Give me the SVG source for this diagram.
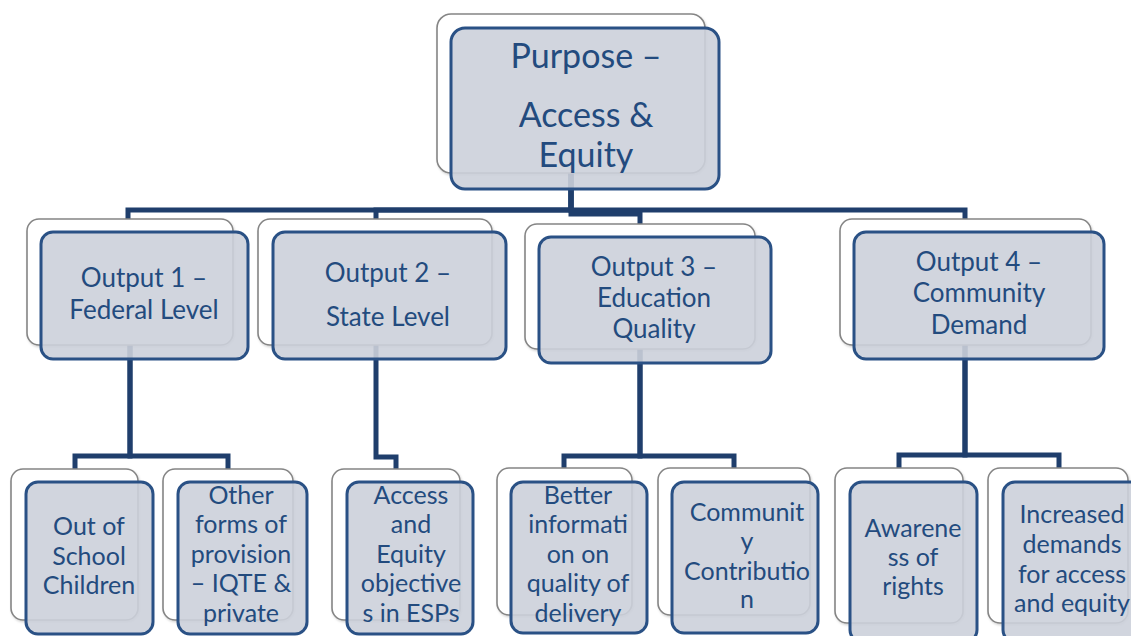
<svg xmlns="http://www.w3.org/2000/svg" width="1131" height="636" viewBox="0 0 1131 636">
  <defs>
    <filter id="soft" x="-5%" y="-5%" width="115%" height="115%">
      <feDropShadow dx="1" dy="1.5" stdDeviation="1.2" flood-color="#000" flood-opacity="0.18"/>
    </filter>
  </defs>
  <style>
    .back { fill: #ffffff; stroke: #858585; stroke-width: 1.6; filter: url(#soft); }
    .front { fill: #ccd0da; fill-opacity: 0.9; stroke: #2a5185; stroke-width: 3; }
    .link { fill: none; stroke: #1f3e6c; stroke-width: 5; stroke-linejoin: miter; }
    .t { font-family: "Lato", "Liberation Sans", sans-serif; fill: #234b7e; text-anchor: middle; }
    .big { font-size: 34px; }
    .mid { font-size: 26px; }
    .sm { font-size: 25px; }
  </style>
  <rect width="1131" height="636" fill="#ffffff"/>

  <!-- connectors, drawn under the boxes -->
  <g id="connectors">
    <path class="link" d="M571,94 V210 H128 V222"/>
    <path class="link" d="M571,94 V210 H376 V222"/>
    <path class="link" d="M571,94 V214 H640 V228"/>
    <path class="link" d="M571,94 V210 H965 V222"/>

    <path class="link" d="M130,280 V456 H75 V470"/>
    <path class="link" d="M130,280 V456 H228 V470"/>

    <path class="link" d="M376,280 V457 H396 V470"/>

    <path class="link" d="M640,285 V456 H564 V470"/>
    <path class="link" d="M640,285 V456 H734 V470"/>

    <path class="link" d="M965,280 V455 H899 V470"/>
    <path class="link" d="M965,280 V455 H1059 V470"/>
  </g>

  <!-- purpose -->
  <g id="purpose">
    <rect class="back" x="437" y="14" width="268" height="159" rx="14"/>
    <rect class="front" x="451" y="28" width="268" height="161" rx="14"/>
    <text class="t big" x="586" y="68">Purpose –</text>
    <text class="t big" x="586" y="127">Access &amp;</text>
    <text class="t big" x="586" y="167">Equity</text>
  </g>

  <!-- outputs -->
  <g id="output1">
    <rect class="back" x="27" y="219" width="206" height="126" rx="12"/>
    <rect class="front" x="41" y="232" width="207" height="127" rx="12"/>
    <text class="t mid" x="144" y="287">Output 1 –</text>
    <text class="t mid" x="144" y="319">Federal Level</text>
  </g>
  <g id="output2">
    <rect class="back" x="258" y="219" width="234" height="126" rx="12"/>
    <rect class="front" x="273" y="232" width="233" height="127" rx="12"/>
    <text class="t mid" x="388" y="282">Output 2 –</text>
    <text class="t mid" x="388" y="326">State Level</text>
  </g>
  <g id="output3">
    <rect class="back" x="525" y="224" width="230" height="125" rx="12"/>
    <rect class="front" x="539" y="237" width="232" height="126" rx="12"/>
    <text class="t mid" x="654" y="276">Output 3 –</text>
    <text class="t mid" x="654" y="307">Education</text>
    <text class="t mid" x="654" y="338">Quality</text>
  </g>
  <g id="output4">
    <rect class="back" x="840" y="219" width="251" height="126" rx="12"/>
    <rect class="front" x="854" y="232" width="250" height="127" rx="12"/>
    <text class="t mid" x="979" y="271">Output 4 –</text>
    <text class="t mid" x="979" y="302">Community</text>
    <text class="t mid" x="979" y="334">Demand</text>
  </g>

  <!-- results -->
  <g id="out-of-school">
    <rect class="back" x="11" y="469" width="127" height="151" rx="12"/>
    <rect class="front" x="26" y="482" width="127" height="152" rx="12"/>
    <text class="t sm" x="89" y="535">Out of</text>
    <text class="t sm" x="89" y="565">School</text>
    <text class="t sm" x="89" y="594">Children</text>
  </g>
  <g id="other-forms">
    <rect class="back" x="163" y="469" width="130" height="151" rx="12"/>
    <rect class="front" x="178" y="482" width="129" height="152" rx="12"/>
    <text class="t sm" x="241" y="504">Other</text>
    <text class="t sm" x="241" y="533">forms of</text>
    <text class="t sm" x="241" y="563">provision</text>
    <text class="t sm" x="241" y="592">– IQTE &amp;</text>
    <text class="t sm" x="241" y="622">private</text>
  </g>
  <g id="access-equity">
    <rect class="back" x="332" y="469" width="128" height="151" rx="12"/>
    <rect class="front" x="347" y="482" width="126" height="152" rx="12"/>
    <text class="t sm" x="411" y="504">Access</text>
    <text class="t sm" x="411" y="533">and</text>
    <text class="t sm" x="411" y="563">Equity</text>
    <text class="t sm" x="411" y="592">objective</text>
    <text class="t sm" x="411" y="622">s in ESPs</text>
  </g>
  <g id="better-information">
    <rect class="back" x="497" y="468" width="135" height="147" rx="12"/>
    <rect class="front" x="511" y="482" width="136" height="151" rx="12"/>
    <text class="t sm" x="578" y="504">Better</text>
    <text class="t sm" x="578" y="533">informati</text>
    <text class="t sm" x="578" y="563">on on</text>
    <text class="t sm" x="578" y="592">quality of</text>
    <text class="t sm" x="578" y="622">delivery</text>
  </g>
  <g id="community-contribution">
    <rect class="back" x="658" y="468" width="152" height="147" rx="12"/>
    <rect class="front" x="672" y="482" width="146" height="151" rx="12"/>
    <text class="t sm" x="747" y="521">Communit</text>
    <text class="t sm" x="747" y="550">y</text>
    <text class="t sm" x="747" y="580">Contributio</text>
    <text class="t sm" x="747" y="608">n</text>
  </g>
  <g id="awareness">
    <rect class="back" x="835" y="468" width="128" height="155" rx="12"/>
    <rect class="front" x="850" y="482" width="127" height="160" rx="12"/>
    <text class="t sm" x="913" y="537">Awarene</text>
    <text class="t sm" x="913" y="566">ss of</text>
    <text class="t sm" x="913" y="595">rights</text>
  </g>
  <g id="increased-demands">
    <rect class="back" x="988" y="468" width="140" height="155" rx="12"/>
    <rect class="front" x="1003" y="482" width="140" height="160" rx="12"/>
    <text class="t sm" x="1072" y="523">Increased</text>
    <text class="t sm" x="1072" y="553">demands</text>
    <text class="t sm" x="1072" y="583">for access</text>
    <text class="t sm" x="1072" y="612">and equity</text>
  </g>
</svg>
